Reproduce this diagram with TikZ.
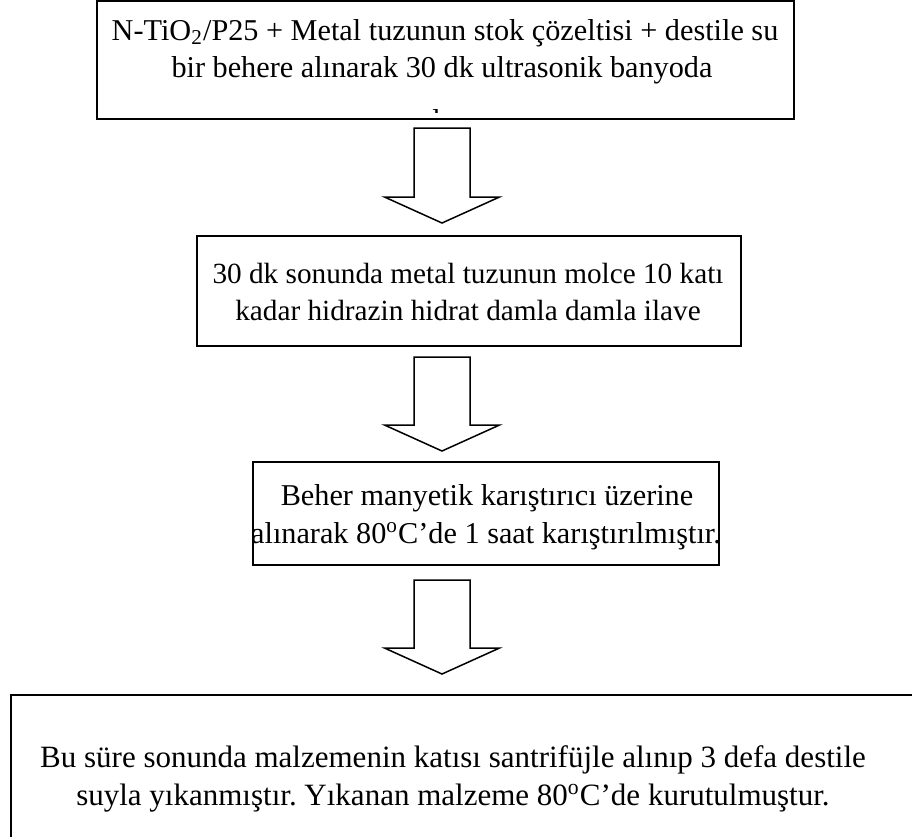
\documentclass[tikz,border=0pt]{standalone}
\usepackage{fontspec}
\setmainfont{Liberation Serif}
\frenchspacing
\begin{document}
\begin{tikzpicture}[x=0.4pt,y=-0.4pt,
  box/.style={draw, line width=0.8pt, inner sep=0pt},
  txt/.style={anchor=base, inner sep=0pt, font=\fontsize{12.1}{14}\selectfont},
  blockarrow/.style={draw, line width=0.6pt, line join=miter},
  pics/downarrow/.style={code={
    \draw[blockarrow] (-28,0) -- (28,0) -- (28,#1) -- (57.5,#1) -- (0,#1+26)
      -- (-57.5,#1) -- (-28,#1) -- cycle;}}]
\useasboundingbox (0,0) rectangle (912,836);

% step boxes
\node[box, minimum width=697*0.4pt, minimum height=118*0.4pt] (b1) at (445.5,60) {};
\node[box, minimum width=544*0.4pt, minimum height=110*0.4pt] (b2) at (469,291) {};
\node[box, minimum width=466*0.4pt, minimum height=103*0.4pt] (b3) at (486,513.5) {};
\draw[line width=0.8pt] (930,695) -- (11,695) -- (11,850);
\coordinate (b4) at (11,695);

% texts
\node[txt] (t1a) at (445,40) {N-TiO\textsubscript{2}/P25 + Metal tuzunun stok çözeltisi + destile su};
\node[txt] (t1b) at (442,77) {bir behere alınarak 30 dk ultrasonik banyoda};
\begin{scope}
  \clip (100,2) rectangle (790,112.5);
  \node[txt] (t1c) at (458,130) {tutulmuştur.};
\end{scope}
\node[txt, font=\fontsize{11.7}{14}\selectfont] (t2a) at (468,283) {30 dk sonunda metal tuzunun molce 10 katı};
\node[txt, font=\fontsize{11.7}{14}\selectfont] (t2b) at (468,320) {kadar hidrazin hidrat damla damla ilave};
\node[txt] (t3a) at (487,505) {Beher manyetik karıştırıcı üzerine};
\node[txt] (t3b) at (486,543) {alınarak 80\textsuperscript{o}C’de 1 saat karıştırılmıştır.};
\node[txt, font=\fontsize{12.4}{14}\selectfont] (t4a) at (453,767) {Bu süre sonunda malzemenin katısı santrifüjle alınıp 3 defa destile};
\node[txt, font=\fontsize{12.4}{14}\selectfont] (t4b) at (453,805) {suyla yıkanmıştır. Yıkanan malzeme 80\textsuperscript{o}C’de kurutulmuştur.};

% block arrows between the steps
\coordinate (a1) at (442,128);
\coordinate (a2) at (442,357);
\coordinate (a3) at (442,580);
\pic at (a1) {downarrow=69};
\pic at (a2) {downarrow=68};
\pic at (a3) {downarrow=68};
\end{tikzpicture}
\end{document}
